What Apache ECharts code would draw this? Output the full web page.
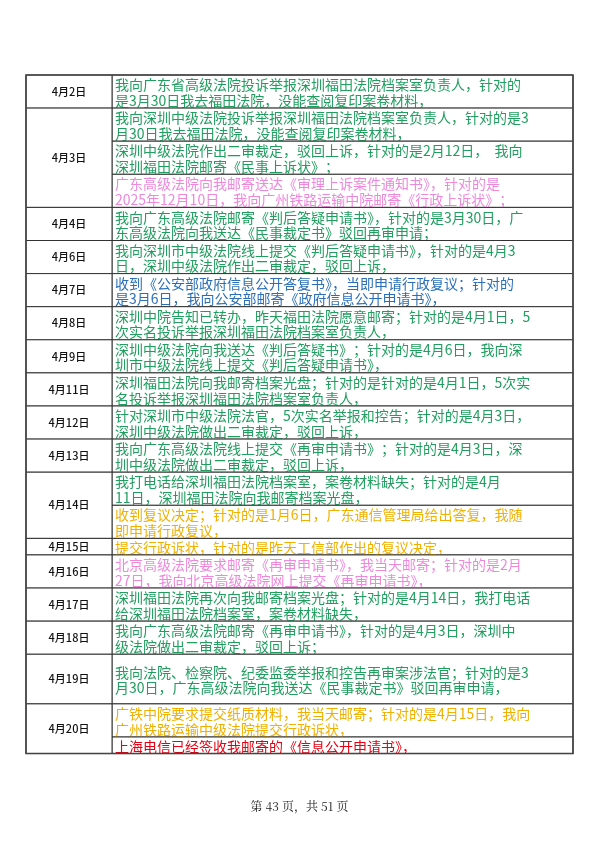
<!DOCTYPE html>
<html><head><meta charset="utf-8">
<script src="https://cdn.jsdelivr.net/npm/echarts@6/dist/echarts.min.js"></script>
<style>html,body{margin:0;padding:0;background:#fff}#c{width:599px;height:848px}</style>
</head><body><div id="c"></div>
<script>
const dates = ["4月2日","4月3日","4月4日","4月6日","4月7日","4月8日","4月9日","4月11日","4月12日","4月13日","4月14日","4月15日","4月16日","4月17日","4月18日","4月19日","4月20日"];
const rowDate = [0,1,1,1,2,3,4,5,6,7,8,9,10,10,11,12,13,14,15,16,16];
const rowLines = [2,2,2,2,2,2,2,2,2,2,2,2,2,2,1,2,2,2,3,2,1];
const rowColor = ["g","g","g","p","g","g","b","g","g","g","g","g","g","o","o","p","g","g","g","o","r"];
const rowText = [
"我向广东省高级法院投诉举报深圳福田法院档案室负责人，针对的\n是3月30日我去福田法院，没能查阅复印案卷材料，",
"我向深圳中级法院投诉举报深圳福田法院档案室负责人，针对的是3\n月30日我去福田法院，没能查阅复印案卷材料，",
"深圳中级法院作出二审裁定，驳回上诉，针对的是2月12日，  我向\n深圳福田法院邮寄《民事上诉状》；",
"广东高级法院向我邮寄送达《审理上诉案件通知书》，针对的是\n2025年12月10日，我向广州铁路运输中院邮寄《行政上诉状》；",
"我向广东高级法院邮寄《判后答疑申请书》，针对的是3月30日，广\n东高级法院向我送达《民事裁定书》驳回再审申请；",
"我向深圳市中级法院线上提交《判后答疑申请书》，针对的是4月3\n日，深圳中级法院作出二审裁定，驳回上诉，",
"收到《公安部政府信息公开答复书》，当即申请行政复议；针对的\n是3月6日，我向公安部邮寄《政府信息公开申请书》，",
"深圳中院告知已转办，昨天福田法院愿意邮寄；针对的是4月1日，5\n次实名投诉举报深圳福田法院档案室负责人，",
"深圳中级法院向我送达《判后答疑书》；针对的是4月6日，我向深\n圳市中级法院线上提交《判后答疑申请书》，",
"深圳福田法院向我邮寄档案光盘；针对的是针对的是4月1日，5次实\n名投诉举报深圳福田法院档案室负责人，",
"针对深圳市中级法院法官，5次实名举报和控告；针对的是4月3日，\n深圳中级法院做出二审裁定，驳回上诉，",
"我向广东高级法院线上提交《再审申请书》；针对的是4月3日，深\n圳中级法院做出二审裁定，驳回上诉，",
"我打电话给深圳福田法院档案室，案卷材料缺失；针对的是4月\n11日，深圳福田法院向我邮寄档案光盘，",
"收到复议决定；针对的是1月6日，广东通信管理局给出答复，我随\n即申请行政复议，",
"提交行政诉状，针对的是昨天工信部作出的复议决定，",
"北京高级法院要求邮寄《再审申请书》，我当天邮寄；针对的是2月\n27日，我向北京高级法院网上提交《再审申请书》，",
"深圳福田法院再次向我邮寄档案光盘；针对的是4月14日，我打电话\n给深圳福田法院档案室，案卷材料缺失，",
"我向广东高级法院邮寄《再审申请书》，针对的是4月3日，深圳中\n级法院做出二审裁定，驳回上诉；",
"我向法院、检察院、纪委监委举报和控告再审案涉法官；针对的是3\n月30日，广东高级法院向我送达《民事裁定书》驳回再审申请，",
"广铁中院要求提交纸质材料，我当天邮寄；针对的是4月15日，我向\n广州铁路运输中级法院提交行政诉状，",
"上海电信已经签收我邮寄的《信息公开申请书》，"
];
const footer = "第 43 页，共 51 页";

const palette = {g:"#1f9e5e", b:"#2a6fb8", p:"#ee88dd", o:"#f0b000", r:"#e60012"};
const L = {left:26, mid:112, right:573, top:75, unit:16.55};

const starts = []; let acc = 0;
rowLines.forEach(n => { starts.push(acc); acc += n; });
const contentData = rowText.map((t,i) => [starts[i], rowLines[i], i]);
const dateData = dates.map((d,di) => {
  const idx = rowDate.map((v,i)=>v===di?i:-1).filter(i=>i>=0);
  const s = starts[idx[0]], e = starts[idx[idx.length-1]] + rowLines[idx[idx.length-1]];
  return [s, e-s, di];
});

function cell(api, x0, x1, s, n) {
  const p0 = api.coord([x0, L.top + s*L.unit]);
  const p1 = api.coord([x1, L.top + (s+n)*L.unit]);
  return {x:p0[0], y:p0[1], w:p1[0]-p0[0], h:p1[1]-p0[1]};
}

const chart = echarts.init(document.getElementById('c'));
chart.setOption({
  animation:false,
  grid:{left:0,right:0,top:0,bottom:0},
  xAxis:{type:'value',min:0,max:599,show:false},
  yAxis:{type:'value',min:0,max:848,inverse:true,show:false},
  title:{text:footer,left:'center',top:795,textStyle:{fontSize:12,fontWeight:'normal',color:'#222',fontFamily:'Noto Serif CJK SC, Noto Sans CJK SC, serif'}},
  series:[
    {type:'custom',data:contentData,renderItem:(params,api)=>{
      const s=api.value(0), n=api.value(1), i=api.value(2);
      const c=cell(api,L.mid,L.right,s,n);
      return {type:'group',children:[
        {type:'rect',shape:{x:c.x,y:c.y,width:c.w,height:c.h},style:{fill:'#fff',stroke:'#333',lineWidth:1}},
        {type:'text',x:c.x+3,y:c.y+c.h/2+1,style:{text:rowText[i],fill:palette[rowColor[i]],font:'14px "Noto Sans CJK SC", sans-serif',lineHeight:15.5,verticalAlign:'middle',align:'left'}}
      ]};
    }},
    {type:'custom',data:dateData,renderItem:(params,api)=>{
      const s=api.value(0), n=api.value(1), i=api.value(2);
      const c=cell(api,L.left,L.mid,s,n);
      return {type:'group',children:[
        {type:'rect',shape:{x:c.x,y:c.y,width:c.w,height:c.h},style:{fill:'#fff',stroke:'#333',lineWidth:1}},
        {type:'text',x:c.x+c.w/2,y:c.y+c.h/2,style:{text:dates[i],fill:'#111',font:'500 11px "Noto Sans CJK SC", sans-serif',verticalAlign:'middle',align:'center'}}
      ]};
    }},
    {type:'custom',data:[[0]],renderItem:(params,api)=>{
      const c=cell(api,L.left,L.right,0,acc);
      return {type:'rect',shape:{x:c.x,y:c.y,width:c.w,height:c.h},style:{fill:null,stroke:'#444',lineWidth:1.6}};
    }}
  ]
});
</script></body></html>
